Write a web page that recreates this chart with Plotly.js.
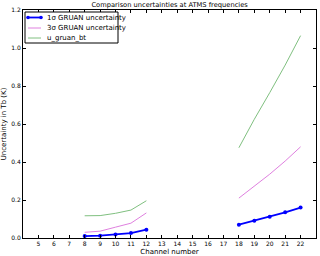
<!DOCTYPE html>
<html><head><meta charset="utf-8">
<script src="https://cdn.plot.ly/plotly-3.0.1.min.js"></script>
<style>html,body{margin:0;padding:0;background:#fff}#c{width:320px;height:256px}</style>
</head><body><div id="c"></div>
<script>
const chA = [8, 9, 10, 11, 12];
const chB = [18, 19, 20, 21, 22];
const sig1A = [0.010, 0.012, 0.019, 0.026, 0.044];
const sig1B = [0.070, 0.091, 0.112, 0.135, 0.160];
const sig3A = [0.030, 0.036, 0.057, 0.078, 0.132];
const sig3B = [0.210, 0.273, 0.336, 0.405, 0.480];
const gruanA = [0.117, 0.118, 0.130, 0.147, 0.196];
const gruanB = [0.475, 0.625, 0.765, 0.910, 1.065];
const names = ['1\u03c3 GRUAN uncertainty', '3\u03c3 GRUAN uncertainty', 'u_gruan_bt'];
const colors = ['#0000ff', '#df80df', '#80c080'];
const xTicks = [5,6,7,8,9,10,11,12,13,14,15,16,17,18,19,20,21,22];
const yTicks = [0.0,0.2,0.4,0.6,0.8,1.0,1.2];

const x = chA.concat([null], chB);
const join = (a,b) => a.concat([null], b);
const traces = [
  {x: x, y: join(sig1A, sig1B), name: names[0], mode: 'lines+markers',
   line: {color: colors[0], width: 1.8}, marker: {color: colors[0], size: 4}},
  {x: x, y: join(sig3A, sig3B), name: names[1], mode: 'lines',
   line: {color: colors[1], width: 1}},
  {x: x, y: join(gruanA, gruanB), name: names[2], mode: 'lines',
   line: {color: colors[2], width: 1}}
];

// custom compact legend (matplotlib-like), in plot-area paper coordinates
const W = 293, H = 228;
const px = v => v / W, py = v => v / H;
const shapes = [{type: 'rect', xref: 'paper', yref: 'paper',
  x0: px(2), x1: px(95), y0: 1 - py(33), y1: 1 - py(2),
  line: {color: '#000', width: 1}, fillcolor: '#fff', layer: 'above'}];
const annotations = [];
const rowY = [1 - py(7.5), 1 - py(18), 1 - py(28)];
names.forEach((n, i) => {
  shapes.push({type: 'line', xref: 'paper', yref: 'paper',
    x0: px(5), x1: px(18), y0: rowY[i], y1: rowY[i],
    line: {color: colors[i], width: i === 0 ? 1.8 : 1}, layer: 'above'});
  annotations.push({xref: 'paper', yref: 'paper', x: px(22), y: rowY[i],
    xanchor: 'left', yanchor: 'middle', text: n, showarrow: false,
    font: {size: 7, color: '#000'}});
});
[5, 18].forEach(e => shapes.push({type: 'circle', xref: 'paper', yref: 'paper',
  x0: px(e - 1.8), x1: px(e + 1.8), y0: rowY[0] - py(1.8), y1: rowY[0] + py(1.8),
  fillcolor: colors[0], line: {color: colors[0], width: 0}, layer: 'above'}));

const ax = {showline: true, mirror: 'ticks', linecolor: '#000', linewidth: 1,
  ticks: 'inside', ticklen: 3, tickcolor: '#000', showgrid: false, zeroline: false,
  tickfont: {size: 6, color: '#000'}};
const layout = {
  width: 320, height: 256,
  margin: {l: 23, r: 4, t: 10, b: 18},
  paper_bgcolor: '#fff', plot_bgcolor: '#fff',
  font: {family: 'DejaVu Sans', color: '#000'},
  title: {text: 'Comparison uncertainties at ATMS frequencies', font: {size: 6.7},
          x: 0.53, xanchor: 'center', y: 0.99, yanchor: 'top'},
  xaxis: Object.assign({}, ax, {range: [4, 23], tickvals: xTicks,
    title: {text: 'Channel number', font: {size: 7}, standoff: 2}}),
  yaxis: Object.assign({}, ax, {range: [0, 1.2], tickvals: yTicks, tickformat: '.1f',
    title: {text: 'Uncertainty in Tb (K)', font: {size: 7}, standoff: 3}}),
  shapes: shapes, annotations: annotations,
  showlegend: false
};
Plotly.newPlot('c', traces, layout, {staticPlot: true, displayModeBar: false});
</script></body></html>
